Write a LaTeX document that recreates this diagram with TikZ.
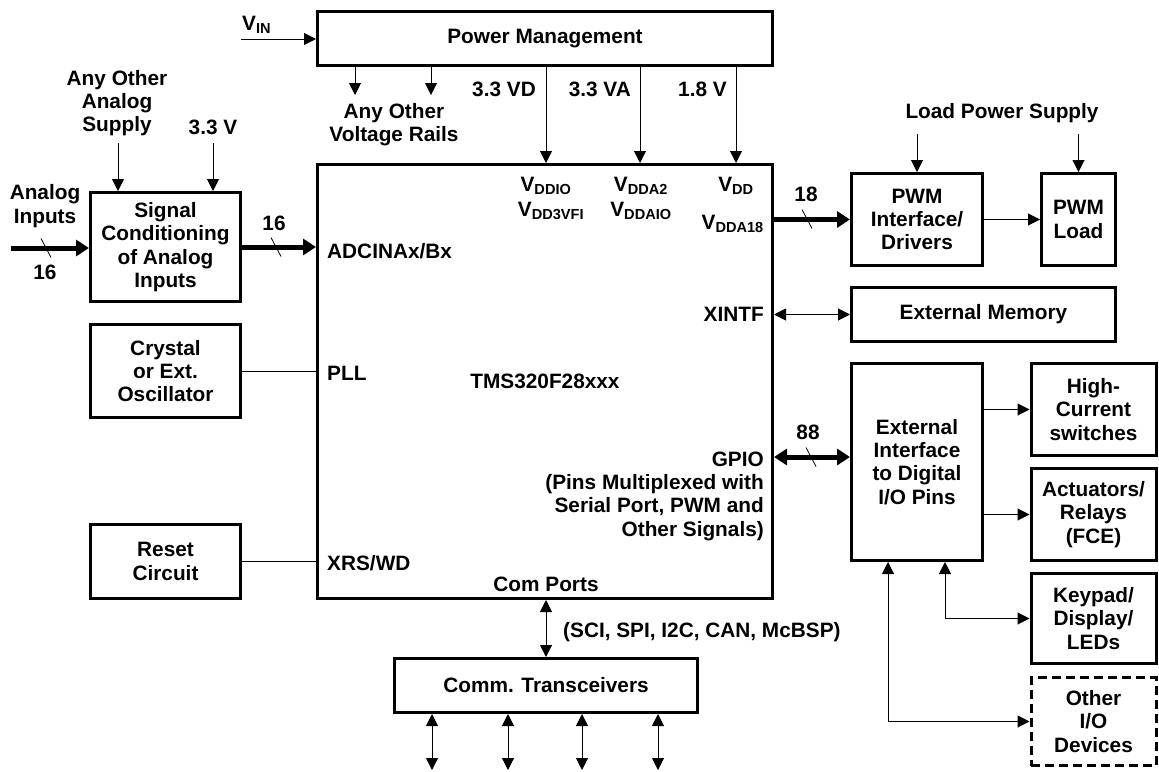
\documentclass[tikz,border=0pt]{standalone}
\usepackage{fontspec}
\setmainfont{Liberation Sans}
\usetikzlibrary{arrows.meta}

\begin{document}
\begin{tikzpicture}[x=1pt, y=-1pt,
        font=\fontsize{20.8}{23.3}\selectfont\bfseries,
        box/.style={draw, line width=3pt, align=center, inner sep=2pt},
        lbl/.style={inner sep=0pt, align=center},
        wire/.style={line width=1pt},
        arr/.style={wire, -{Triangle[length=12pt, width=12pt]}},
        darr/.style={wire, {Triangle[length=12pt, width=12pt]}-{Triangle[length=12pt, width=12pt]}},
        bus/.style={line width=5pt, -{Triangle[length=13pt, width=16pt]}},
        dbus/.style={line width=5pt, {Triangle[length=13pt, width=16pt]}-{Triangle[length=13pt, width=16pt]}},
        tick/.style={line width=0.8pt}]
        \useasboundingbox (0,0) rectangle (1159,771);

        % power management
        \node[box, minimum width=455pt, minimum height=54pt] (pm) at (545,38.5) {Power Management};
        \coordinate (vin) at (241,39);
        \draw[arr] (vin) -- (vin -| pm.west);
        \node[lbl, anchor=base west] (vinlbl) at (242,30) {V\textsubscript{IN}};
        \coordinate (rail1) at (355,95);
        \coordinate (rail2) at (431,95);
        \foreach \r in {rail1,rail2}
            \draw[arr] (pm.south -| \r) -- (\r);
        \node[lbl] (rails) at (394,125) {Any Other\\Voltage Rails};

        % controller
        \node[box, minimum width=455pt, minimum height=434pt] (mcu) at (545,381.5) {TMS320F28xxx};
        \coordinate (vd) at (546,0);
        \coordinate (va) at (640,0);
        \coordinate (v18) at (736,0);
        \foreach \v in {vd,va,v18}
            \draw[arr] (pm.south -| \v) -- (mcu.north -| \v);
        \node[lbl, anchor=east] (vdlbl) at (536,89) {3.3 VD};
        \node[lbl, anchor=east] (valbl) at (631,89) {3.3 VA};
        \node[lbl, anchor=east] (v18lbl) at (727,89) {1.8 V};
        \node[lbl] (vddio) at (546,186) {V\textsubscript{DDIO}};
        \node[lbl] (vdd3vfi) at (551,211) {V\textsubscript{DD3VFI}};
        \node[lbl] (vdda2) at (641,186) {V\textsubscript{DDA2}};
        \node[lbl] (vddaio) at (641,211) {V\textsubscript{DDAIO}};
        \node[lbl] (vdd) at (736,186) {V\textsubscript{DD}};
        \node[lbl, anchor=east] (vdda18) at (764,224) {V\textsubscript{DDA18}};
        \node[lbl, anchor=west] (adc) at (327,251) {ADCINAx/Bx};
        \node[lbl, anchor=west] (pll) at (327,373) {PLL};
        \node[lbl, anchor=west] (xrs) at (327,563) {XRS/WD};
        \node[lbl, anchor=east] (xintf) at (764,314) {XINTF};
        \node[lbl, anchor=east, align=right] (gpio) at (764,496) {GPIO\\(Pins Multiplexed with\\Serial Port, PWM and\\Other Signals)};
        \node[lbl] (com) at (546,584) {Com Ports};

        % analog side
        \node[box, minimum width=150pt, minimum height=109pt] (sig) at (165.5,247) {Signal\\Conditioning\\of Analog\\Inputs};
        \coordinate (ain) at (11,248);
        \draw[bus] (ain) -- (ain -| sig.west);
        \draw[tick] (46,248) ++(-5,-9.5) -- ++(10,19);
        \node[lbl] (ainlbl) at (45,206) {Analog\\Inputs};
        \node[lbl] (ainn) at (45,272) {16};
        \draw[bus] (sig.east) -- (sig.east -| mcu.west);
        \draw[tick] (276,247) ++(-5,-9.5) -- ++(10,19);
        \node[lbl] (adcn) at (274,223) {16};
        \coordinate (sup1) at (118,143);
        \coordinate (sup2) at (213,143);
        \foreach \s in {sup1,sup2}
            \draw[arr] (\s) -- (\s |- sig.north);
        \node[lbl] (suplbl) at (117,103) {Any Other\\Analog\\Supply};
        \node[lbl] (sup33) at (213,127) {3.3 V};

        \node[box, minimum width=150pt, minimum height=93pt] (xtal) at (165.5,371) {Crystal\\or Ext.\\Oscillator};
        \draw[wire] (xtal.east) -- (xtal.east -| mcu.west);
        \node[box, minimum width=150pt, minimum height=74pt] (rst) at (165.5,561.5) {Reset\\Circuit};
        \draw[wire] (rst.east) -- (rst.east -| mcu.west);

        % pwm
        \node[box, minimum width=131pt, minimum height=92pt] (pwmif) at (917,219.5) {PWM\\Interface/\\Drivers};
        \node[box, minimum width=74pt, minimum height=92pt] (pwmld) at (1078.5,219.5) {PWM\\Load};
        \draw[bus] (mcu.east |- pwmif.west) -- (pwmif.west);
        \draw[tick] (807,219) ++(-5,-9.5) -- ++(10,19);
        \node[lbl] (pwmn) at (806,194) {18};
        \draw[arr] (pwmif.east) -- (pwmld.west);
        \node[lbl] (loadps) at (1002,113) {Load Power Supply};
        \coordinate (lp1) at (917,134);
        \coordinate (lp2) at (1078.5,134);
        \draw[arr] (lp1) -- (pwmif.north);
        \draw[arr] (lp2) -- (pwmld.north);

        % memory
        \node[box, minimum width=264pt, minimum height=54pt] (xmem) at (983.5,314.5) {External Memory};
        \draw[darr] (mcu.east |- xmem.west) -- (xmem.west);

        % digital i/o
        \node[box, minimum width=131pt, minimum height=197pt] (extif) at (917,462) {External\\Interface\\to Digital\\I/O Pins};
        \coordinate (gp) at (0,457);
        \draw[dbus] (mcu.east |- gp) -- (extif.west |- gp);
        \draw[tick] (811,457) ++(-5,-9.5) -- ++(10,19);
        \node[lbl] (gpion) at (808,432) {88};
        \node[box, minimum width=125pt, minimum height=92pt] (hcs) at (1093.5,409.5) {High-\\Current\\switches};
        \node[box, minimum width=125pt, minimum height=92pt] (act) at (1093.5,514.5) {Actuators/\\Relays\\(FCE)};
        \node[box, minimum width=125pt, minimum height=90pt] (key) at (1093.5,618.5) {Keypad/\\Display/\\LEDs};
        \node[box, dash pattern=on 9pt off 5pt, minimum width=125pt, minimum height=88pt] (oth) at (1093.5,721.5) {Other\\I/O\\Devices};
        \draw[arr] (extif.east |- hcs.west) -- (hcs.west);
        \draw[arr] (extif.east |- act.west) -- (act.west);
        \coordinate (kx) at (945,0);
        \coordinate (ox) at (888,0);
        \draw[darr] (extif.south -| kx) |- (key.west);
        \draw[darr] (extif.south -| ox) |- (oth.west);

        % comm
        \node[box, minimum width=303pt, minimum height=54pt] (comm) at (546,685.5) {Comm. Transceivers};
        \draw[darr] (mcu.south -| comm.north) -- (comm.north);
        \node[lbl, anchor=west] (buses) at (563,632) {(SCI, SPI, I2C, CAN, McBSP)};
        \foreach \x [count=\i] in {432,508,582,658} {
            \coordinate (io\i) at (\x,770);
            \draw[darr] (comm.south -| io\i) -- (io\i);
        }
    \end{tikzpicture}
\end{document}
